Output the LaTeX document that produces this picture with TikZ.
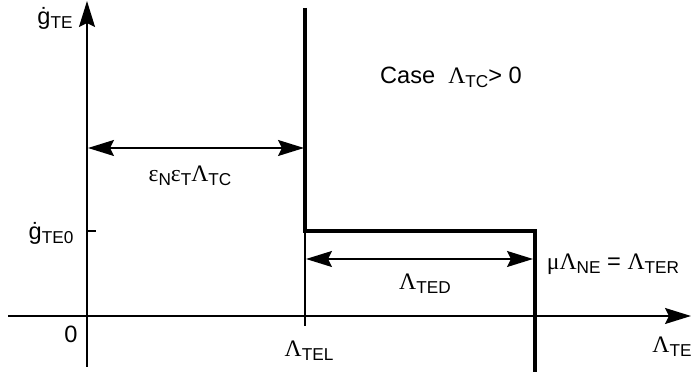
\documentclass[tikz,border=0pt]{standalone}
\usepackage{fontspec}
\setmainfont{Liberation Sans}
\newfontfamily\grk{Liberation Serif}
\usetikzlibrary{arrows.meta}
\newcommand{\lo}[1]{\raisebox{-2pt}{\fontsize{8.6}{9}\selectfont #1}}
\tikzset{axisarrow/.style={-{Stealth[length=13pt,width=8pt,inset=2pt]}},
  dimline/.style={{Stealth[length=13pt,width=8pt,inset=2pt]}-{Stealth[length=13pt,width=8pt,inset=2pt]}},
  bold line/.style={line width=2pt}}

\begin{document}
\begin{tikzpicture}[x=0.5pt, y=-0.5pt, line width=0.9pt, font=\fontsize{11.8}{13}\selectfont]
      \useasboundingbox (0,0) rectangle (692,378);

      \coordinate (xl) at (8,316);
      \coordinate (xr) at (691,316);
      \coordinate (yb) at (87,367);
      \coordinate (yt) at (87,1);
      \coordinate (top) at (305,8);
      \coordinate (knee) at (305,231);
      \coordinate (corner) at (535,231);
      \coordinate (bot) at (535,372);
      \coordinate (tel) at (305,326);
      \coordinate (tick0) at (87,231);
      \coordinate (tick) at (96,231);
      \coordinate (a1) at (88,148);
      \coordinate (a2) at (304,148);
      \coordinate (b1) at (306,259);
      \coordinate (b2) at (533,259);

      \draw [axisarrow] (xl) -- (xr);
      \draw [axisarrow] (yb) -- (yt);

      \draw [bold line] (top) -- (knee) -- (corner) -- (bot);
      \draw (knee) -- (tel);
      \draw (tick0) -- (tick);

      \draw [dimline] (a1) -- (a2);
      \draw [dimline] (b1) -- (b2);

      \node (gte) at (55,18) {ġ\lo{TE}};
      \node (gte0) at (51,233) {ġ\lo{TE0}};
      \node (zero) at (71,334) {0};
      \node (ltel) at (309,351) {{\grk Λ}\lo{TEL}};
      \node (lte) at (672,347) {{\grk Λ}\lo{TE}};
      \node (eps) at (190,176) {{\grk ε}\lo{N}{\grk ε}\lo{T}{\grk Λ}\lo{TC}};
      \node (lted) at (425,284) {{\grk Λ}\lo{TED}};
      \node (mu) at (613,264) {{\grk μΛ}\lo{NE} = {\grk Λ}\lo{TER}};
      \node (case) at (451,77) {Case\ \ {\grk Λ}\lo{TC}> 0};
    \end{tikzpicture}
\end{document}
